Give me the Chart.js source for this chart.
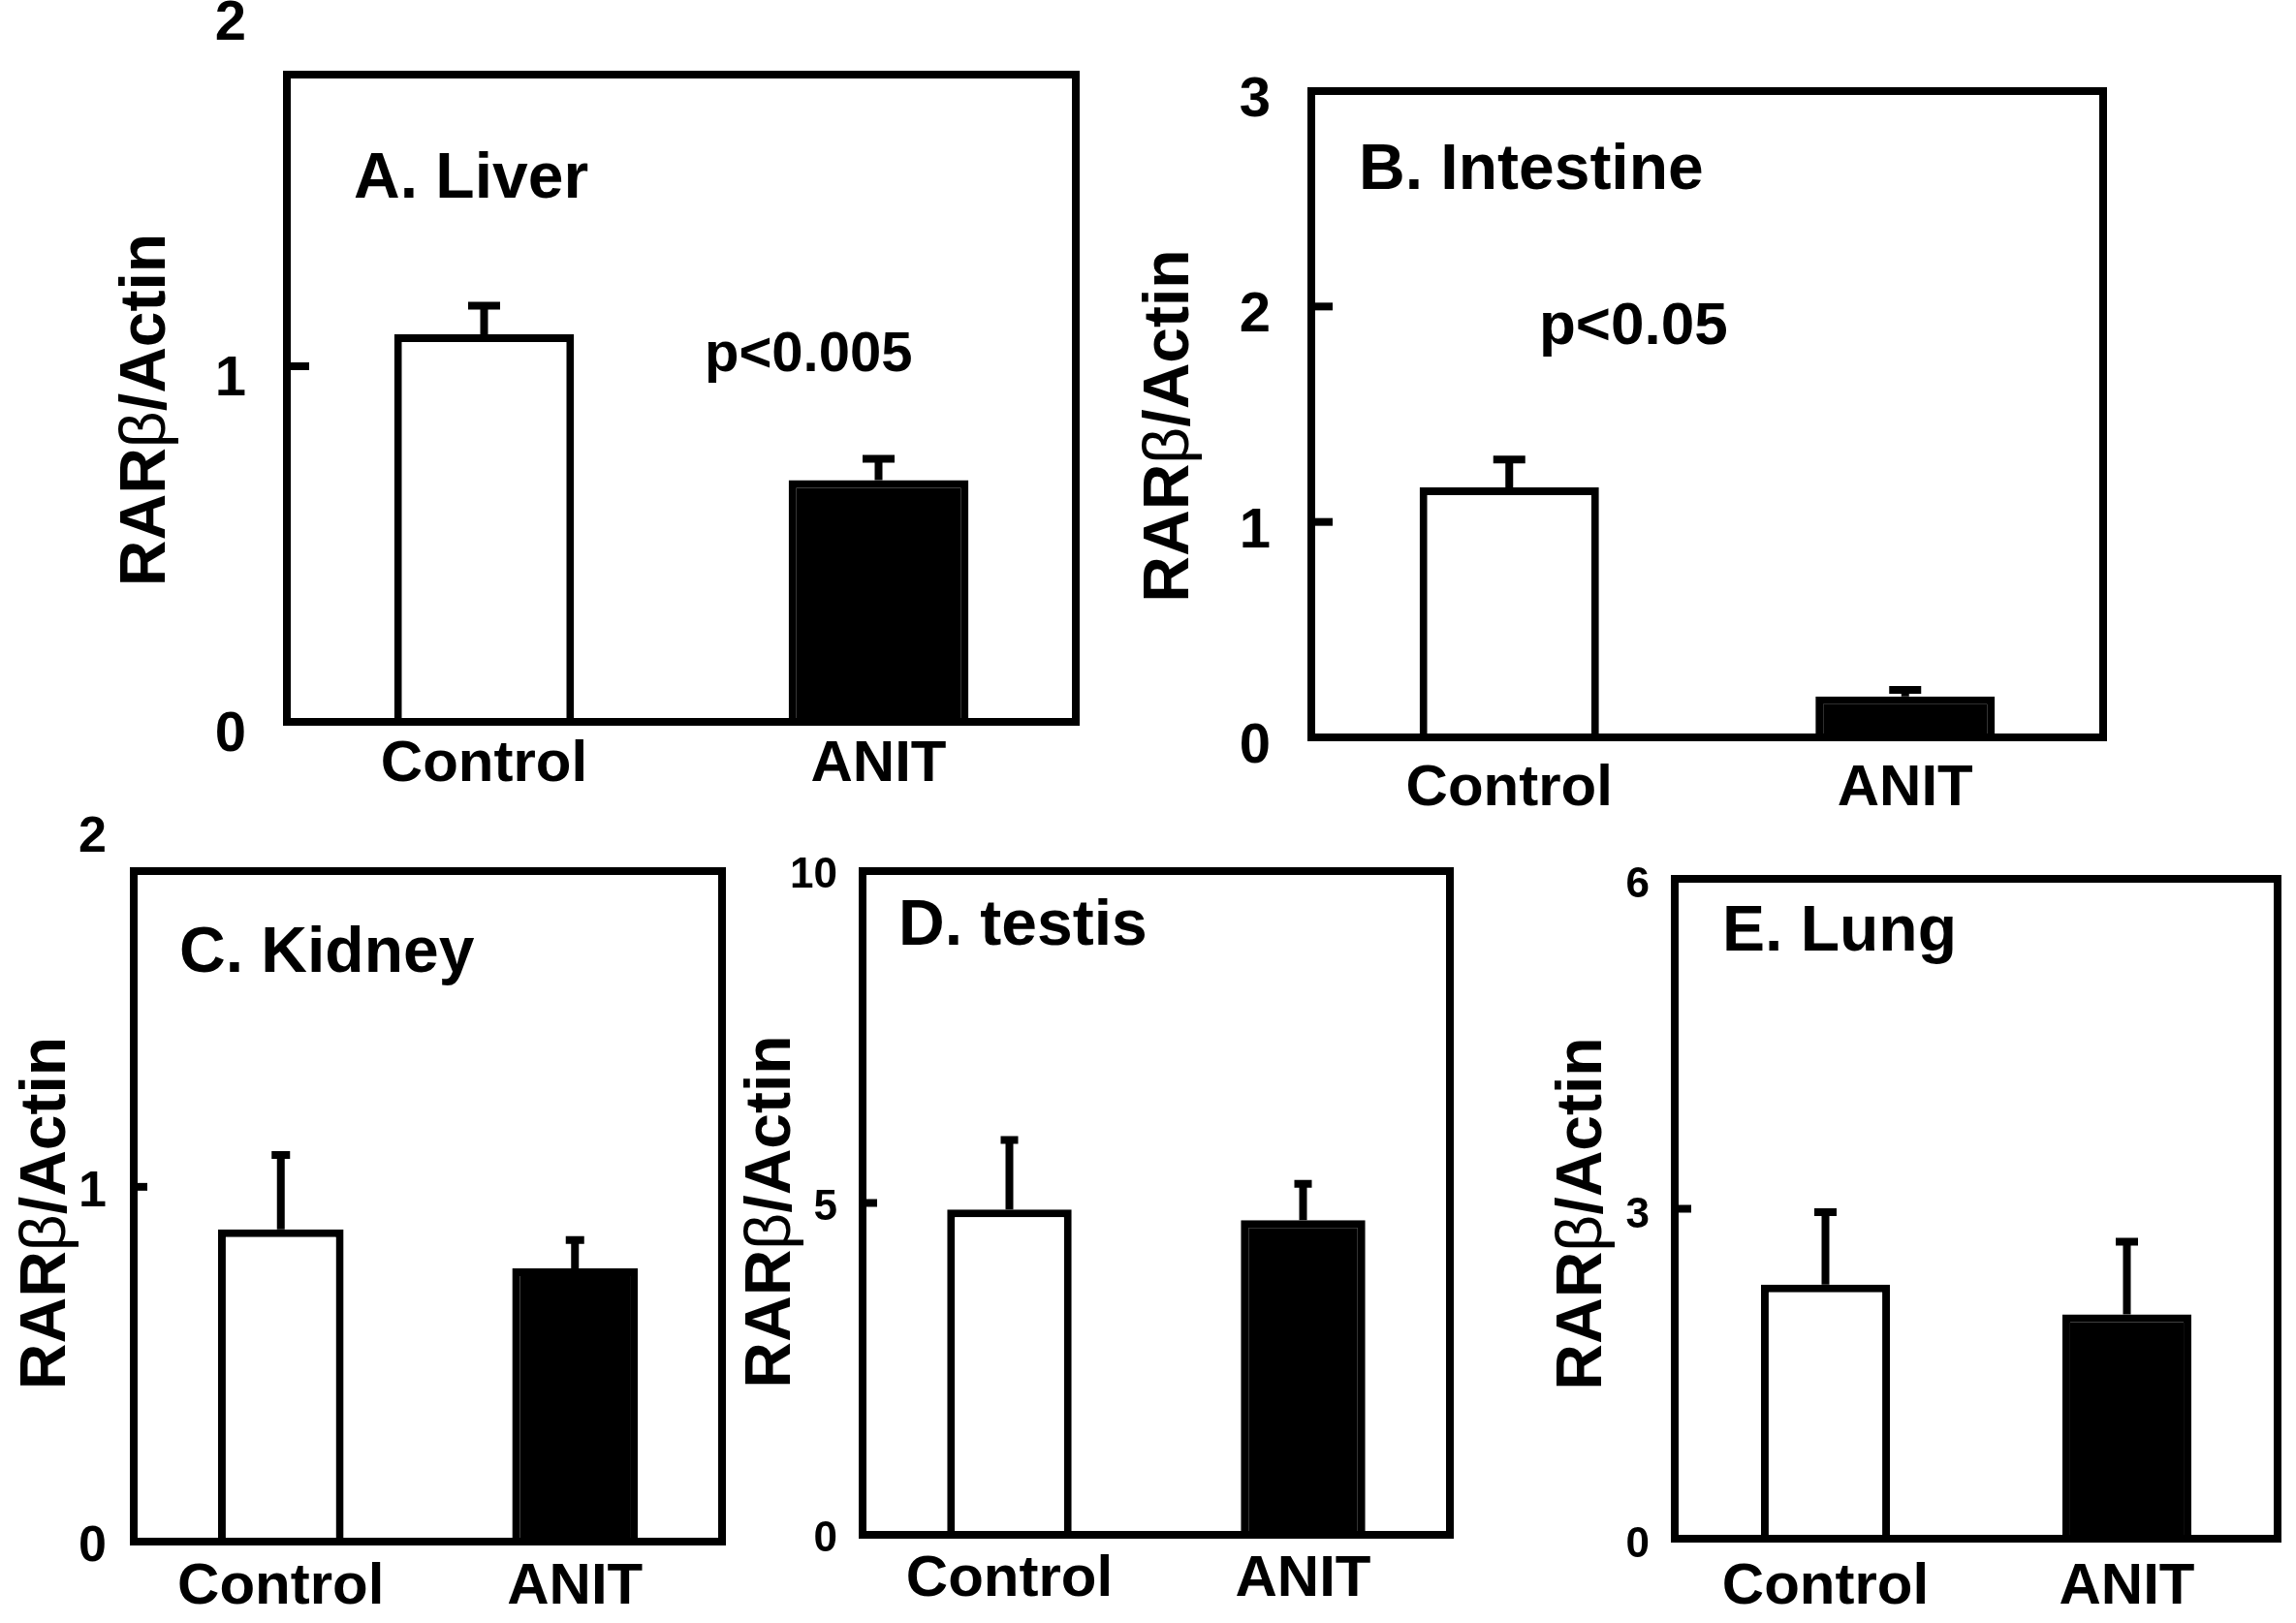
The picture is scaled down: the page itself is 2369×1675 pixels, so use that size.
<!DOCTYPE html>
<html>
<head>
<meta charset="utf-8">
<script src="https://cdn.jsdelivr.net/npm/chart.js@4.4.1/dist/chart.umd.min.js"></script>
<style>
  html, body { margin: 0; padding: 0; background: #fff; }
  body { width: 2369px; height: 1675px; position: relative; overflow: hidden; }
  .panel { position: absolute; }
  .panel canvas { display: block; }
</style>
</head>
<body>
<div class="panel" id="pA"><canvas></canvas></div>
<div class="panel" id="pB"><canvas></canvas></div>
<div class="panel" id="pC"><canvas></canvas></div>
<div class="panel" id="pD"><canvas></canvas></div>
<div class="panel" id="pE"><canvas></canvas></div>
<script>
const categories = ["Control", "ANIT"];

const liverMean = [1.09, 0.68];
const liverErr = [0.08, 0.06];
const liverTicks = [0, 1, 2];

const intestineMean = [1.16, 0.19];
const intestineErr = [0.13, 0.03];
const intestineTicks = [0, 1, 2, 3];

const kidneyMean = [0.88, 0.77];
const kidneyErr = [0.21, 0.08];
const kidneyTicks = [0, 1, 2];

const testisMean = [4.90, 4.74];
const testisErr = [1.05, 0.55];
const testisTicks = [0, 5, 10];

const lungMean = [2.31, 2.04];
const lungErr = [0.66, 0.66];
const lungTicks = [0, 3, 6];

// axis title pieces: beta is set in a lighter weight, as in the figure
const yTitleParts = [["RAR", "bold"], ["β", "normal"], ["/Actin", "bold"]];

const FONT = "'Liberation Sans', Arial, sans-serif";
const LINE = 8;
const TITLE_SIZE = 66;

Chart.defaults.font.family = FONT;
Chart.defaults.color = "#000";

// error bars, inward ticks, frame, axis title and panel texts
const panelFrame = {
  id: "panelFrame",
  afterDatasetsDraw(chart, args, opts) {
    const { ctx, chartArea: a } = chart;
    const y = chart.scales.y;
    const meta = chart.getDatasetMeta(0);
    const ds = chart.data.datasets[0];
    ctx.save();
    ctx.strokeStyle = "#000";
    ctx.lineWidth = LINE;
    ctx.lineCap = "butt";

    meta.data.forEach((bar, i) => {
      const top = y.getPixelForValue(ds.data[i] + ds.errors[i]);
      ctx.beginPath();
      ctx.moveTo(bar.x, bar.y);
      ctx.lineTo(bar.x, top);
      ctx.moveTo(bar.x - opts.cap / 2, top);
      ctx.lineTo(bar.x + opts.cap / 2, top);
      ctx.stroke();
    });

    y.ticks.forEach(t => {
      const py = y.getPixelForValue(t.value);
      if (py < a.top || py > a.bottom) return;
      ctx.beginPath();
      ctx.moveTo(a.left, py);
      ctx.lineTo(a.left + opts.tickLen, py);
      ctx.stroke();
    });

    ctx.lineJoin = "miter";
    ctx.strokeRect(a.left, a.top, a.right - a.left, a.bottom - a.top);

    ctx.fillStyle = "#000";
    ctx.textAlign = "left";
    ctx.textBaseline = "alphabetic";
    (opts.notes || []).forEach(n => {
      ctx.font = `bold ${n.size}px ${FONT}`;
      ctx.fillText(n.text, n.x, n.y);
    });

    // rotated y-axis title
    ctx.save();
    ctx.translate(y.left + TITLE_SIZE * 0.6, (a.top + a.bottom) / 2 + opts.titleShift);
    ctx.rotate(-Math.PI / 2);
    ctx.textBaseline = "middle";
    const widths = yTitleParts.map(([txt, w]) => {
      ctx.font = `${w} ${TITLE_SIZE}px ${FONT}`;
      return ctx.measureText(txt).width;
    });
    let tx = -widths.reduce((s, w) => s + w, 0) / 2;
    yTitleParts.forEach(([txt, w], i) => {
      ctx.font = `${w} ${TITLE_SIZE}px ${FONT}`;
      ctx.fillText(txt, tx, 0);
      tx += widths[i];
    });
    ctx.restore();

    ctx.restore();
  }
};

function makePanel(cfg) {
  const holder = document.getElementById(cfg.id);
  holder.style.left = cfg.left + "px";
  holder.style.top = cfg.top + "px";
  holder.style.width = cfg.width + "px";
  holder.style.height = cfg.height + "px";

  const notes = cfg.notes.map(n => ({ text: n.text, size: n.size, x: n.x - cfg.left, y: n.y - cfg.top }));

  return new Chart(holder.querySelector("canvas"), {
    type: "bar",
    data: {
      labels: categories,
      datasets: [{
        data: cfg.mean,
        errors: cfg.err,
        backgroundColor: ["#ffffff", "#000000"],
        borderColor: "#000000",
        borderWidth: LINE,
        borderSkipped: "start",
        categoryPercentage: 1,
        barPercentage: cfg.barPct
      }]
    },
    options: {
      responsive: true,
      maintainAspectRatio: false,
      animation: false,
      layout: {
        padding: {
          top: cfg.box.top - cfg.top,
          right: cfg.left + cfg.width - cfg.box.right,
          left: 0,
          bottom: 0
        }
      },
      plugins: {
        legend: { display: false },
        tooltip: { enabled: false },
        panelFrame: { cap: cfg.cap, tickLen: cfg.tickLen, titleShift: cfg.titleShift, notes }
      },
      scales: {
        x: {
          grid: { display: false, drawTicks: false },
          border: { display: false },
          ticks: { font: { size: 60, weight: "bold" }, padding: cfg.xPad, maxRotation: 0, autoSkip: false },
          afterFit(s) {
            s.height = cfg.top + cfg.height - cfg.box.bottom;
            s.paddingLeft = 0;
            s.paddingRight = 0;
          }
        },
        y: {
          min: 0,
          max: cfg.max,
          grid: { display: false, drawTicks: false },
          border: { display: false },
          ticks: {
            font: { size: cfg.tickSize, weight: "bold" },
            padding: cfg.yPad,
            labelOffset: cfg.labelOffset,
            autoSkip: false,
            callback: v => String(v)
          },
          afterBuildTicks(s) {
            s.ticks = cfg.ticks.map(v => ({ value: v }));
          },
          afterFit(s) {
            s.width = cfg.box.left - cfg.left;
            s.paddingTop = 0;
            s.paddingBottom = 0;
          },
          title: { display: false }
        }
      }
    },
    plugins: [panelFrame]
  });
}

makePanel({
  id: "pA", left: 112, top: 0, width: 1018, height: 845,
  box: { left: 296, top: 77, right: 1110, bottom: 745 },
  mean: liverMean, err: liverErr, ticks: liverTicks, max: 1.82,
  tickSize: 58, yPad: 42, labelOffset: 14, xPad: 8, barPct: 0.456, cap: 33, tickLen: 23, titleShift: 12,
  notes: [
    { text: "A. Liver", x: 365, y: 204, size: 66 },
    { text: "p<0.005", x: 727, y: 383, size: 58 }
  ]
});

makePanel({
  id: "pB", left: 1168, top: 0, width: 1032, height: 860,
  box: { left: 1353, top: 94, right: 2170, bottom: 761 },
  mean: intestineMean, err: intestineErr, ticks: intestineTicks, max: 3,
  tickSize: 58, yPad: 42, labelOffset: 10, xPad: 17, barPct: 0.453, cap: 33, tickLen: 22, titleShift: 12,
  notes: [
    { text: "B. Intestine", x: 1402, y: 195, size: 66 },
    { text: "p<0.05", x: 1588, y: 355, size: 62 }
  ]
});

makePanel({
  id: "pC", left: 9, top: 820, width: 756, height: 855,
  box: { left: 138, top: 899, right: 745, bottom: 1591 },
  mean: kidneyMean, err: kidneyErr, ticks: kidneyTicks, max: 1.89,
  tickSize: 52, yPad: 28, labelOffset: 6, xPad: 11, barPct: 0.427, cap: 19, tickLen: 14, titleShift: 7,
  notes: [{ text: "C. Kidney", x: 185, y: 1003, size: 66 }]
});

makePanel({
  id: "pD", left: 757, top: 860, width: 759, height: 815,
  box: { left: 890, top: 899, right: 1496, bottom: 1584 },
  mean: testisMean, err: testisErr, ticks: testisTicks, max: 10,
  tickSize: 44, yPad: 26, labelOffset: 5, xPad: 10, barPct: 0.424, cap: 18, tickLen: 15, titleShift: 9,
  notes: [{ text: "D. testis", x: 927, y: 975, size: 66 }]
});

makePanel({
  id: "pE", left: 1594, top: 860, width: 775, height: 815,
  box: { left: 1728, top: 907, right: 2350, bottom: 1588 },
  mean: lungMean, err: lungErr, ticks: lungTicks, max: 6,
  tickSize: 44, yPad: 26, labelOffset: 7, xPad: 14, barPct: 0.428, cap: 23, tickLen: 17, titleShift: 5,
  notes: [{ text: "E. Lung", x: 1777, y: 981, size: 66 }]
});
</script>
</body>
</html>
